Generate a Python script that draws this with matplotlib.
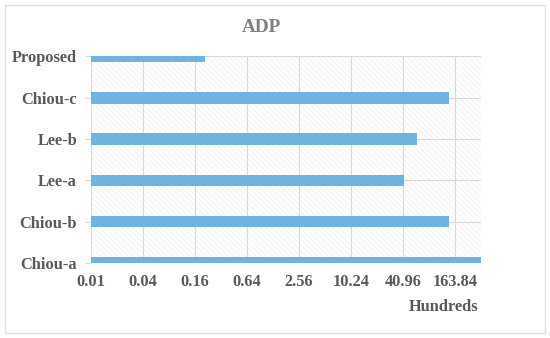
import matplotlib
matplotlib.use('Agg')
import matplotlib.pyplot as plt
from matplotlib.patches import Rectangle

# data (values in hundreds, log base-4 axis)
methods = ['Chiou-a', 'Chiou-b', 'Lee-a', 'Lee-b', 'Chiou-c', 'Proposed']
adp = [327.68, 138.0, 41.8, 59.5, 138.0, 0.208]
tick_vals = [0.01, 0.04, 0.16, 0.64, 2.56, 10.24, 40.96, 163.84]
tick_labels = ['0.01', '0.04', '0.16', '0.64', '2.56', '10.24', '40.96', '163.84']

plt.rcParams['font.family'] = ['Liberation Serif', 'DejaVu Serif']
plt.rcParams['hatch.linewidth'] = 0.5

grid_c = '#d9d9d9'
text_c = '#595959'

fig = plt.figure(figsize=(5.5, 3.38), dpi=100)
fig.patches.append(Rectangle((5 / 550, 5 / 338), 540 / 550, 328 / 338,
                             transform=fig.transFigure, fill=False,
                             edgecolor='#e0e0e0', lw=1))

ax = fig.add_axes([91 / 550, 1 - 263 / 338, 390 / 550, (263 - 56.4) / 338])
ax.add_patch(Rectangle((0, 0), 1, 1, transform=ax.transAxes, facecolor='white',
                       edgecolor='#ececec', hatch='\\\\\\\\\\\\', lw=0, zorder=0))

ypos = list(range(len(methods)))
ax.barh(ypos, adp, height=0.28, left=0.0001, color='#70b3de', zorder=3)

ax.set_xscale('log', base=4)
ax.set_xlim(0.01, 327.68)
ax.set_ylim(0, len(methods) - 1)
ax.set_xticks(tick_vals)
ax.set_xticklabels(tick_labels)
ax.minorticks_off()
ax.set_yticks(ypos)
ax.set_yticklabels(methods)

ax.grid(True, color=grid_c, lw=0.8, zorder=1)
ax.set_axisbelow(True)
for s in ax.spines.values():
    s.set_visible(False)
ax.tick_params(axis='x', length=0, pad=8, labelsize=11.8, labelcolor=text_c)
ax.tick_params(axis='y', length=4, color=grid_c, pad=6, labelsize=11.8,
               labelcolor=text_c)
for lab in ax.get_xticklabels() + ax.get_yticklabels():
    lab.set_fontweight('bold')

fig.text(261 / 550, 1 - 27 / 338, 'ADP', ha='center', va='center',
         fontsize=13.8, fontweight='bold', color='#7f7f7f')
fig.text(444 / 550, 1 - 307 / 338, 'Hundreds', ha='center', va='center',
         fontsize=11.8, fontweight='bold', color=text_c)

fig.savefig('out.png', dpi=100)
